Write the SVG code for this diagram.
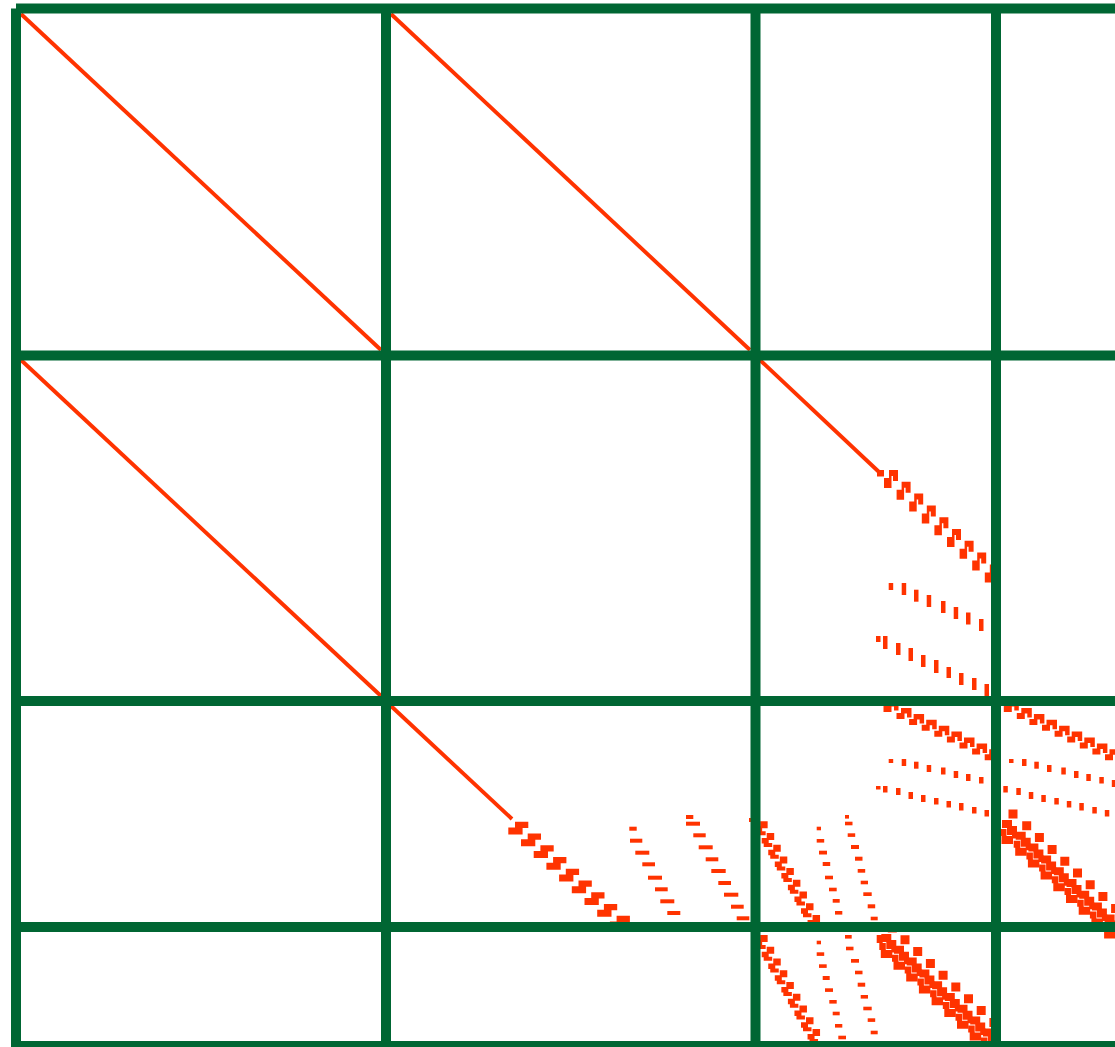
<svg xmlns="http://www.w3.org/2000/svg" width="1115" height="1047" viewBox="0 0 1115 1047">
<style>
.g{stroke:#006633;stroke-width:10;fill:none}
.d{stroke:#FF3300;stroke-width:3.9;fill:none}
</style>
<defs>
<polygon id="m23" points="0,8 5,8 5,0 14,0 14,11 9,11 9,6 7.5,6 7.5,18 0,18"/>
<polygon id="m33" points="0,5 4.5,5 4.5,0 15,0 15,9.5 10.5,9.5 10.5,5.5 8,5.5 8,11 0,11"/>
<polygon id="z32" points="6.7,0 20,0 20,6.3 14.3,6.3 14.3,12.7 0,12.7 0,5.8 6.7,5.8"/>
<path id="s3" d="M5,0h7.5v7h-7.5zM0,5h7v5.5h-7zM2,10h8.5v4h-8.5z"/>
<path id="cl" d="M5.5,-11.5h9v9h-9zM-1,-1h10v8h-10zM4,5h10v9h-10zM-1.5,15h11.5v8h-11.5zM9,11h5.5v6.5h-5.5zM-3,8h6.5v7h-6.5z"/>
<g id="p33">
<use href="#m33" x="883.5" y="701"/>
<use href="#m33" x="896.5" y="708"/>
<use href="#m33" x="909.1" y="713.9"/>
<use href="#m33" x="921.7" y="719.8"/>
<use href="#m33" x="934.3" y="725.7"/>
<use href="#m33" x="946.9" y="731.6"/>
<use href="#m33" x="959.5" y="737.5"/>
<use href="#m33" x="972.1" y="743.4"/>
<use href="#m33" x="984.7" y="749.3"/>
<rect x="888.7" y="759" width="4.5" height="4"/>
<rect x="901.7" y="759" width="4.5" height="7"/>
<rect x="914" y="761.7" width="4.5" height="7"/>
<rect x="926.7" y="765" width="4.5" height="7"/>
<rect x="941" y="767.5" width="4.5" height="7"/>
<rect x="953.7" y="771" width="4.5" height="7"/>
<rect x="966" y="774" width="4.5" height="7"/>
<rect x="979" y="777" width="4.5" height="6.5"/>
<rect x="991.5" y="780" width="4.5" height="7"/>
<rect x="876" y="786" width="4.5" height="3.5"/>
<rect x="883" y="786" width="4.5" height="6.5"/>
<rect x="896" y="788" width="4.5" height="7"/>
<rect x="908.5" y="792" width="4.5" height="7"/>
<rect x="921" y="795" width="4.5" height="7"/>
<rect x="934" y="798" width="4.5" height="6.5"/>
<rect x="946.5" y="801" width="4.5" height="6.5"/>
<rect x="959" y="803" width="4.5" height="7.5"/>
<rect x="972" y="807" width="4.5" height="6.5"/>
<rect x="984.5" y="810" width="4.5" height="6.5"/>
</g>
</defs>
<rect width="1115" height="1047" fill="#ffffff"/>
<g id="entries" fill="#FF3300">
<g id="diagonals">
<line class="d" x1="21" y1="14" x2="381" y2="350"/>
<line class="d" x1="391" y1="14" x2="750" y2="350"/>
<line class="d" x1="21" y1="360" x2="381" y2="696"/>
<line class="d" x1="391" y1="706" x2="512" y2="819"/>
<line class="d" x1="760" y1="360" x2="879" y2="472"/>
</g>
<g id="block23">
<rect x="877" y="470" width="7" height="6.5"/>
<use href="#m23" x="884" y="470"/>
<use href="#m23" x="896.6" y="481.8"/>
<use href="#m23" x="909.2" y="493.6"/>
<use href="#m23" x="921.8" y="505.4"/>
<use href="#m23" x="934.4" y="517.2"/>
<use href="#m23" x="947" y="529"/>
<use href="#m23" x="959.6" y="540.8"/>
<use href="#m23" x="972.2" y="552.6"/>
<use href="#m23" x="984.8" y="564.4"/>
<rect x="888.7" y="583" width="4.5" height="7"/>
<rect x="901.7" y="583" width="4.5" height="12"/>
<rect x="914" y="589.7" width="4.5" height="12"/>
<rect x="926.7" y="595" width="4.5" height="12"/>
<rect x="941" y="601" width="4.5" height="12"/>
<rect x="953.7" y="607" width="4.5" height="12"/>
<rect x="966" y="612.5" width="4.5" height="12"/>
<rect x="979" y="619" width="4.5" height="12"/>
<rect x="991.5" y="625" width="4.5" height="12"/>
<rect x="876" y="636" width="4.5" height="6"/>
<rect x="883" y="636" width="4.5" height="13"/>
<rect x="896" y="643" width="4.5" height="12"/>
<rect x="908.5" y="648" width="4.5" height="13"/>
<rect x="921" y="655" width="4.5" height="12"/>
<rect x="934" y="660" width="4.5" height="13"/>
<rect x="946.5" y="667" width="4.5" height="11"/>
<rect x="959" y="673" width="4.5" height="12"/>
<rect x="972" y="678" width="4.5" height="12"/>
<rect x="984.5" y="684" width="4.5" height="13"/>
</g>
<g id="block32">
<use href="#z32" x="508.3" y="821.7"/>
<use href="#z32" x="521" y="833.45"/>
<use href="#z32" x="533.7" y="845.2"/>
<use href="#z32" x="546.4" y="856.95"/>
<use href="#z32" x="559.1" y="868.7"/>
<use href="#z32" x="571.8" y="880.45"/>
<use href="#z32" x="584.5" y="892.2"/>
<use href="#z32" x="597.2" y="903.95"/>
<use href="#z32" x="609.9" y="915.7"/>
<rect x="629.3" y="826.7" width="7.4" height="4"/>
<rect x="630" y="838.7" width="12.3" height="4"/>
<rect x="635.3" y="850.7" width="14" height="4"/>
<rect x="642.3" y="862.3" width="12.7" height="4"/>
<rect x="648" y="875.7" width="14" height="4"/>
<rect x="655" y="887.3" width="12.7" height="4"/>
<rect x="660.3" y="899.3" width="14" height="4"/>
<rect x="667.3" y="911" width="13" height="4"/>
<rect x="686" y="815" width="7.3" height="4"/>
<rect x="686" y="821.7" width="14" height="4"/>
<rect x="693.3" y="833.3" width="12.4" height="4"/>
<rect x="698.7" y="845.3" width="14" height="4"/>
<rect x="705.7" y="857.3" width="12.6" height="4"/>
<rect x="711.3" y="869" width="14.4" height="4"/>
<rect x="718.3" y="881" width="12.7" height="4"/>
<rect x="724" y="892.7" width="14.3" height="4"/>
<rect x="731" y="904.7" width="12.7" height="4"/>
<rect x="736.7" y="916.3" width="12.6" height="4"/>
</g>
<g id="block33">
<use href="#p33"/>
<rect x="749" y="818" width="4" height="4"/>
<use href="#s3" x="755.15" y="821.3"/>
<use href="#s3" x="761.7" y="833"/>
<use href="#s3" x="768.25" y="844.7"/>
<use href="#s3" x="774.8" y="856.4"/>
<use href="#s3" x="781.35" y="868.1"/>
<use href="#s3" x="787.9" y="879.8"/>
<use href="#s3" x="794.45" y="891.5"/>
<use href="#s3" x="801" y="903.2"/>
<use href="#s3" x="807.55" y="914.9"/>
<rect x="816.7" y="826.7" width="4.3" height="3.6"/>
<rect x="816.7" y="839" width="7.5" height="3.6"/>
<rect x="819" y="850.7" width="8" height="3.8"/>
<rect x="822.7" y="862" width="7.5" height="4"/>
<rect x="825" y="875.7" width="8" height="3.6"/>
<rect x="829" y="887.7" width="7.7" height="3.6"/>
<rect x="832.7" y="899" width="7" height="3.7"/>
<rect x="835" y="911" width="7.3" height="3.6"/>
<rect x="845" y="815" width="4" height="3.6"/>
<rect x="845" y="821.7" width="7.5" height="3.6"/>
<rect x="847.7" y="833.3" width="7.5" height="3.6"/>
<rect x="851" y="845" width="8" height="4"/>
<rect x="855" y="856.7" width="7.5" height="4"/>
<rect x="857.7" y="869" width="7.5" height="3.7"/>
<rect x="860.7" y="880.7" width="7.3" height="3.6"/>
<rect x="863.3" y="892.3" width="8.4" height="3.7"/>
<rect x="867.7" y="904.3" width="7.5" height="4"/>
<rect x="870.7" y="916.7" width="7" height="3.6"/>
</g>
<g id="block34">
<use href="#p33" transform="translate(120.3,0)"/>
<use href="#cl" x="1003" y="821"/>
<use href="#cl" x="1016.7" y="832.8"/>
<use href="#cl" x="1029.4" y="844.6"/>
<use href="#cl" x="1042.1" y="856.4"/>
<use href="#cl" x="1054.8" y="868.2"/>
<use href="#cl" x="1067.5" y="880"/>
<use href="#cl" x="1080.2" y="891.8"/>
<use href="#cl" x="1092.9" y="903.6"/>
<use href="#cl" x="1105.6" y="915.4"/>
</g>
<g id="block43">
<use href="#s3" x="755.15" y="934.95"/>
<use href="#s3" x="761.7" y="946.7"/>
<use href="#s3" x="768.25" y="958.45"/>
<use href="#s3" x="774.8" y="970.2"/>
<use href="#s3" x="781.35" y="981.95"/>
<use href="#s3" x="787.9" y="993.7"/>
<use href="#s3" x="794.45" y="1005.45"/>
<use href="#s3" x="801" y="1017.2"/>
<use href="#s3" x="807.55" y="1028.95"/>
<rect x="816.7" y="940.7" width="4.3" height="3.6"/>
<rect x="816.7" y="952.3" width="7.5" height="3.6"/>
<rect x="819" y="964.3" width="7.7" height="3.6"/>
<rect x="822.7" y="976" width="7" height="4"/>
<rect x="825" y="988.3" width="8" height="3.6"/>
<rect x="829.3" y="1000" width="7.4" height="3.6"/>
<rect x="832.7" y="1011.7" width="7" height="3.6"/>
<rect x="835" y="1024" width="7.3" height="3.6"/>
<rect x="838.3" y="1035.7" width="7.7" height="3.6"/>
<rect x="845" y="935" width="6.7" height="3.6"/>
<rect x="846" y="946.7" width="7.5" height="3.6"/>
<rect x="851" y="959" width="8" height="3.7"/>
<rect x="855" y="970.7" width="7.5" height="3.6"/>
<rect x="857.7" y="982.7" width="7.5" height="4"/>
<rect x="860.7" y="995" width="7.3" height="3.6"/>
<rect x="863.3" y="1006.7" width="8.4" height="3.6"/>
<rect x="867.7" y="1018.3" width="7.5" height="3.6"/>
<rect x="870.7" y="1030.7" width="7" height="3.6"/>
<rect x="876.7" y="935" width="6" height="8"/>
<use href="#cl" x="882.3" y="935"/>
<use href="#cl" x="895" y="946.8"/>
<use href="#cl" x="907.7" y="958.6"/>
<use href="#cl" x="920.4" y="970.4"/>
<use href="#cl" x="933.1" y="982.2"/>
<use href="#cl" x="945.8" y="994"/>
<use href="#cl" x="958.5" y="1005.8"/>
<use href="#cl" x="971.2" y="1017.6"/>
<use href="#cl" x="983.9" y="1029.4"/>
</g>
</g>
<g id="grid" class="g">
<line x1="16" y1="8.5" x2="1120" y2="8.5"/>
<line x1="16" y1="355.5" x2="1120" y2="355.5"/>
<line x1="16" y1="701" x2="1120" y2="701"/>
<line x1="16" y1="927" x2="1120" y2="927"/>
<line x1="16" y1="1046" x2="1120" y2="1046"/>
<line x1="16" y1="8.5" x2="16" y2="1051"/>
<line x1="386" y1="8.5" x2="386" y2="1051"/>
<line x1="755.5" y1="8.5" x2="755.5" y2="1051"/>
<line x1="996" y1="8.5" x2="996" y2="1051"/>
</g>
</svg>
